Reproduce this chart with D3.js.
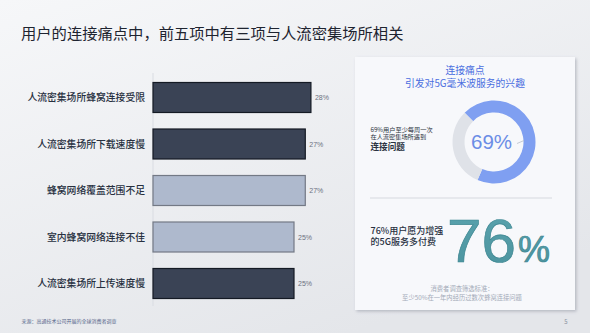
<!DOCTYPE html>
<html><head><meta charset="utf-8">
<script src="https://cdn.jsdelivr.net/npm/d3@7"></script>
<style>
html,body{margin:0;padding:0;}
body{width:590px;height:333px;overflow:hidden;}
svg{display:block;font-family:"Noto Sans CJK SC","Noto Sans",sans-serif;}
</style></head>
<body>
<script>
const title = "用户的连接痛点中，前五项中有三项与人流密集场所相关";
const categories = ["人流密集场所蜂窝连接受限","人流密集场所下载速度慢","蜂窝网络覆盖范围不足","室内蜂窝网络连接不佳","人流密集场所上传速度慢"];
const values = [28, 27, 27, 25, 25];
const donutLabels = ["遇到问题","其他"];
const donutValues = [69, 31];
const payValue = 76;
const source = "来源：高通技术公司开展的全球消费者调查";
const cardTitle = ["连接痛点","引发对5G毫米波服务的兴趣"];
const donutText = ["69%用户至少每周一次","在人流密集场所遇到","连接问题"];
const payText = ["76%用户愿为增强","的5G服务多付费"];
const noteText = ["消费者调查筛选标准：","至少50%在一年内经历过数次蜂窝连接问题"];
const pageNum = "5";

const W = 590, H = 333;
const svg = d3.select("body").append("svg").attr("width", W).attr("height", H);
const defs = svg.append("defs");
const bg = defs.append("linearGradient").attr("id","bg").attr("x1","0").attr("y1","0").attr("x2","0.6").attr("y2","1");
bg.append("stop").attr("offset","0").attr("stop-color","#f6f7f9");
bg.append("stop").attr("offset","1").attr("stop-color","#e4e6ea");
const sh = defs.append("filter").attr("id","sh").attr("x","-10%").attr("y","-10%").attr("width","125%").attr("height","125%");
sh.append("feDropShadow").attr("dx",1.5).attr("dy",1.5).attr("stdDeviation",1.5).attr("flood-color","#7a8090").attr("flood-opacity",0.45);
const tg = defs.append("linearGradient").attr("id","teal").attr("x1","0").attr("y1","0").attr("x2","0").attr("y2","1");
tg.append("stop").attr("offset","0").attr("stop-color","#5aa3ae");
tg.append("stop").attr("offset","1").attr("stop-color","#4b939e");

svg.append("rect").attr("width",W).attr("height",H).attr("fill","url(#bg)");

svg.append("text").attr("x",21).attr("y",38.5).attr("font-size",15.3).attr("fill","#1e2430").text(title);

// Bars
const x = d3.scaleLinear().domain([0,100]).range([153, 153+564]);
const y = d3.scaleBand().domain(categories).range([66.5, 314.5]).paddingInner(1/3).paddingOuter(1/3);
svg.append("line").attr("x1",153).attr("x2",153).attr("y1",73).attr("y2",306).attr("stroke","#d9dce2").attr("stroke-width",1);
const data = categories.map((c,i)=>({c, v:values[i], dense:c.includes("人流密集场所")}));
const bars = svg.append("g");
bars.selectAll("rect").data(data).join("rect")
  .attr("x", x(0)).attr("y", d=>y(d.c)+0.5)
  .attr("width", d=>x(d.v)-x(0)).attr("height", y.bandwidth()-1)
  .attr("fill", d=>d.dense?"#3a4355":"#aeb9cd")
  .attr("stroke", d=>d.dense?"#141a24":"#737985").attr("stroke-width",1.2);
bars.selectAll("text.lab").data(data).join("text").attr("class","lab")
  .attr("x",145).attr("y",d=>y(d.c)+y.bandwidth()/2+3.6)
  .attr("text-anchor","end").attr("font-size",9.8).attr("font-weight",500).attr("fill","#27303f").text(d=>d.c);
bars.selectAll("text.val").data(data).join("text").attr("class","val")
  .attr("x",d=>x(d.v)+4).attr("y",d=>y(d.c)+y.bandwidth()/2+2.5)
  .attr("font-size",7).attr("fill","#6b7180").attr("font-family","Liberation Sans, Arial, sans-serif").text(d=>d.v+"%");

svg.append("text").attr("x",21.5).attr("y",323).attr("font-size",5).attr("fill","#55658a").text(source);

// Card
svg.append("rect").attr("x",355).attr("y",57).attr("width",220).attr("height",253).attr("fill","#f7f8fb").attr("filter","url(#sh)");
svg.selectAll("text.ct").data(cardTitle).join("text").attr("class","ct")
  .attr("x",465).attr("y",(d,i)=>73.5+i*13.2).attr("text-anchor","middle").attr("font-size",9.8).attr("fill","#4a6ee0").text(d=>d);

// Donut
const pie = d3.pie().sort(null).startAngle(-Math.PI/4).endAngle(2*Math.PI-Math.PI/4);
const arc = d3.arc().innerRadius(29.5).outerRadius(41.5);
const dg = svg.append("g").attr("transform","translate(494,142)");
dg.selectAll("path").data(pie(donutValues)).join("path").attr("d",arc).attr("fill",(d,i)=>i===0?"#7f9ff1":"#dfe2e8");
dg.append("text").attr("x",-2.5).attr("y",7.3).attr("text-anchor","middle").attr("font-size",20.5)
  .attr("font-family","Liberation Sans, Arial, sans-serif").attr("fill","#6b8de6").text(donutValues[0]+"%");
dg.append("line").attr("x1",23).attr("y1",1.5).attr("x2",30).attr("y2",-1.5).attr("stroke","#b8bec9").attr("stroke-width",0.8);

svg.selectAll("text.dt").data(donutText).join("text").attr("class","dt")
  .attr("x",370.5).attr("y",(d,i)=>i<2?131.6+i*7.6:149.8)
  .attr("font-size",(d,i)=>i<2?6.2:8.6).attr("font-weight",(d,i)=>i<2?400:700).attr("fill","#2a3240").text(d=>d);

svg.append("line").attr("x1",370).attr("x2",552).attr("y1",198).attr("y2",198).attr("stroke","#d6d9df").attr("stroke-width",1);

svg.selectAll("text.pt").data(payText).join("text").attr("class","pt")
  .attr("x",370.5).attr("y",(d,i)=>233.8+i*11.6).attr("font-size",9).attr("font-weight",500).attr("fill","#27303f").text(d=>d);

const big = svg.append("text").attr("x",447).attr("y",262).attr("font-family","Liberation Sans, Arial, sans-serif")
  .attr("fill","url(#teal)").attr("stroke","#3d8691").attr("stroke-width",0.7);
big.append("tspan").attr("font-size",62).text(payValue);
big.append("tspan").attr("font-size",36).attr("dx",2).text("%");

svg.selectAll("text.nt").data(noteText).join("text").attr("class","nt")
  .attr("x",462).attr("y",(d,i)=>291.3+i*8.3).attr("text-anchor","middle").attr("font-size",6.3).attr("fill","#a3aab8").text(d=>d);

svg.append("text").attr("x",566).attr("y",324).attr("text-anchor","middle").attr("font-size",6).attr("fill","#8a91a0").text(pageNum);
</script>
</body></html>
